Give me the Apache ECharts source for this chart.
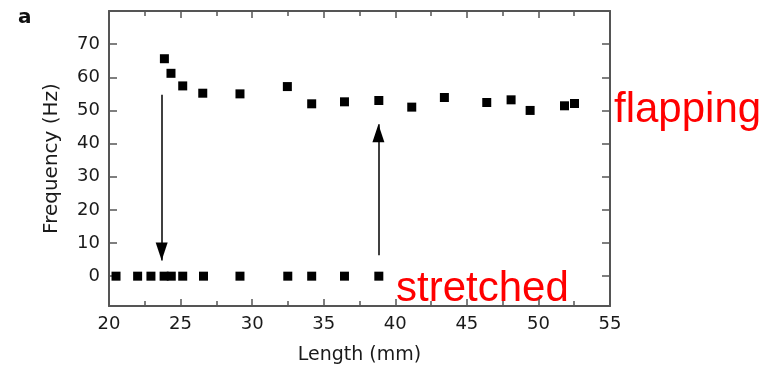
<!DOCTYPE html>
<html>
<head>
<meta charset="utf-8">
<script src="https://cdn.jsdelivr.net/npm/echarts@6/dist/echarts.min.js"></script>
<style>
  html, body { margin: 0; padding: 0; background: #fff; }
  #chart { width: 777px; height: 370px; }
</style>
</head>
<body>
<div id="chart"></div>
<script>
// values
const flappingLength = [23.87, 24.33, 25.15, 26.55, 29.15, 32.46, 34.16, 36.45, 38.85, 41.15, 43.43, 46.39, 48.09, 49.42, 51.82, 52.52];
const flappingFreq = [65.6, 61.2, 57.4, 55.2, 55.0, 57.2, 52.0, 52.6, 53.0, 51.0, 53.9, 52.4, 53.2, 50.0, 51.4, 52.1];
const stretchedLength = [20.49, 22.0, 22.93, 23.85, 24.35, 25.15, 26.6, 29.15, 32.49, 34.16, 36.45, 38.85];
const stretchedFreq = [0, 0, 0, 0, 0, 0, 0, 0, 0, 0, 0, 0];
const downArrow = [[23.68, 54.7], [23.68, 4.75]];
const upArrow = [[38.82, 6.3], [38.82, 45.8]];
const yTicks = [0, 10, 20, 30, 40, 50, 60, 70];

const font = "DejaVu Sans";
const frameColor = "#555";
const textColor = "#1a1a1a";

const chart = echarts.init(document.getElementById("chart"), null, { renderer: "canvas" });

const xBase = {
  type: "value",
  min: 20,
  max: 55,
  interval: 5,
  axisLine: { show: true, onZero: false, lineStyle: { color: frameColor, width: 2 } },
  axisTick: { show: true, inside: true, length: 7, lineStyle: { color: frameColor, width: 1.5 } },
  minorTick: { show: true, splitNumber: 2, length: 5, lineStyle: { color: frameColor, width: 1.5 } },
  splitLine: { show: false }
};

const yBase = {
  type: "value",
  min: -9,
  max: 80,
  axisLine: { show: true, onZero: false, lineStyle: { color: frameColor, width: 2 } },
  axisTick: { show: true, inside: true, length: 8, customValues: yTicks, lineStyle: { color: frameColor, width: 1.5 } },
  splitLine: { show: false }
};

const arrowLine = (pts) => ({
  silent: true,
  symbol: ["none", "triangle"],
  symbolSize: [12, 18],
  symbolOffset: [[0, 0], [0, 9]],
  label: { show: false },
  lineStyle: { color: "#000", width: 1.5, type: "solid" },
  data: [[{ coord: pts[0] }, { coord: pts[1] }]]
});

chart.setOption({
  animation: false,
  grid: { left: 109, right: 167, top: 11, bottom: 61 },
  xAxis: [
    Object.assign({}, xBase, {
      position: "bottom",
      name: "Length (mm)",
      nameLocation: "middle",
      nameGap: 40,
      nameTextStyle: { fontFamily: font, fontSize: 19, color: textColor },
      axisLabel: { fontFamily: font, fontSize: 18, color: textColor, margin: 9 }
    }),
    Object.assign({}, xBase, {
      position: "top",
      axisLabel: { show: false }
    })
  ],
  yAxis: [
    Object.assign({}, yBase, {
      position: "left",
      name: "Frequency (Hz)",
      nameLocation: "middle",
      nameGap: 47,
      nameTextStyle: { fontFamily: font, fontSize: 20, color: textColor },
      axisLabel: { fontFamily: font, fontSize: 18, color: textColor, margin: 9, customValues: yTicks }
    }),
    Object.assign({}, yBase, {
      position: "right",
      axisLabel: { show: false }
    })
  ],
  graphic: [
    { type: "text", left: 18, top: 8, style: { text: "a", fontFamily: font, fontWeight: "bold", fontSize: 20, fill: "#111" } },
    { type: "text", left: 614, top: 89, style: { text: "flapping", fontFamily: "Liberation Sans", fontSize: 42, fill: "#ff0000" } },
    { type: "text", left: 396, top: 268, style: { text: "stretched", fontFamily: "Liberation Sans", fontSize: 42, fill: "#ff0000" } }
  ],
  series: [
    {
      type: "scatter",
      symbol: "rect",
      symbolSize: 9,
      itemStyle: { color: "#000", opacity: 1 },
      data: flappingLength.map((x, i) => [x, flappingFreq[i]])
    },
    {
      type: "scatter",
      symbol: "rect",
      symbolSize: 9,
      itemStyle: { color: "#000", opacity: 1 },
      data: stretchedLength.map((x, i) => [x, stretchedFreq[i]])
    },
    {
      type: "line",
      data: [],
      markLine: arrowLine(downArrow)
    },
    {
      type: "line",
      data: [],
      markLine: arrowLine(upArrow)
    }
  ]
});
</script>
</body>
</html>
